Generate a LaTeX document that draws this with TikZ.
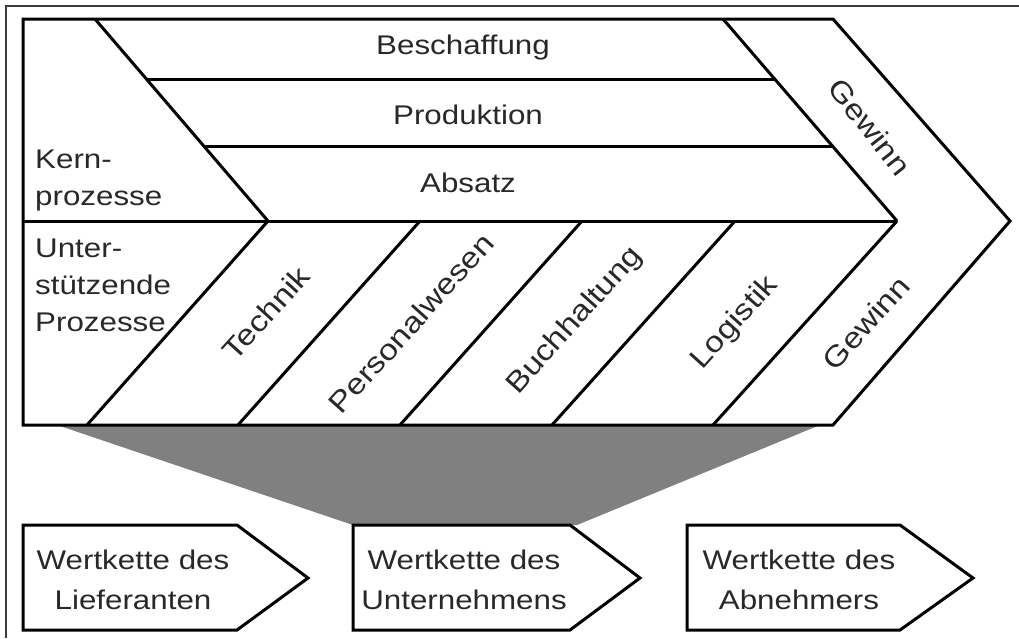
\documentclass[tikz,border=0pt]{standalone}
\usepackage{fontspec}
\setmainfont{Liberation Sans}[FakeStretch=1.16]
\usepackage{tikz}
\usetikzlibrary{positioning}
\definecolor{framegray}{RGB}{60, 60, 60}
\definecolor{funnelgray}{RGB}{128, 128, 128}
\definecolor{textgray}{RGB}{40, 40, 40}

\tikzset{
  chainline/.style={line width=3pt, line join=miter, line cap=butt},
  plainlbl/.style={font=\fontsize{27}{37}\selectfont, text=textgray, inner sep=0pt},
  sidelbl/.style={plainlbl, align=left, anchor=north west},
  slantlbl/.style={plainlbl, font=\fontsize{29}{37}\selectfont, rotate=48},
  boxlbl/.style={font=\fontsize{27}{40}\selectfont, text=textgray, inner sep=0pt, align=center},
}

\begin{document}
\begin{tikzpicture}[x=1pt, y=-1pt]
    \useasboundingbox (0,0) rectangle (1019,638);

    % Outer frame
    \draw[line width=1.5pt, framegray] (6,638) -- (6,6) -- (1019,6);

    % Funnel to the own chain
    \fill[funnelgray] (57,425) -- (820,425) -- (577,525) -- (353,525) -- cycle;

    % Value chain outline
    \draw[chainline] (23,19) -- (833,19) -- (1010,221) -- (833,425) -- (23,425) -- cycle;

    % Core processes
    \draw[chainline] (95,19) -- (268,221);
    \draw[chainline] (723,19) -- (897,221);
    \draw[chainline] (146,79) -- (775,79);
    \draw[chainline] (204,146) -- (832,146);
    \draw[chainline] (23,221) -- (897,221);

    % Support processes
    \draw[chainline] (268,221) -- (87,425);
    \draw[chainline] (420,221) -- (238,425);
    \draw[chainline] (582,221) -- (400,425);
    \draw[chainline] (735,221) -- (552,425);
    \draw[chainline] (897,221) -- (713,425);

    % Labels
    \node[plainlbl] (beschaffung) at (463,48) {Beschaffung};
    \node[plainlbl] (produktion) at (468,115) {Produktion};
    \node[plainlbl] (absatz) at (468,183) {Absatz};
    \node[sidelbl] (kern) at (35,150) {Kern-\\prozesse};
    \node[sidelbl] (unter) at (35,239) {Unter-\\stützende\\Prozesse};
    \node[slantlbl] (technik) at (266,313) {Technik};
    \node[slantlbl] (personal) at (411,323) {Personalwesen};
    \node[slantlbl] (buchhaltung) at (575,321) {Buchhaltung};
    \node[slantlbl] (logistik) at (735,323) {Logistik};
    \node[slantlbl] (gewinnunten) at (866,323) {Gewinn};
    \node[slantlbl, rotate=-100] (gewinnoben) at (870,127) {Gewinn};

    % Chains of supplier, company and customer
    \draw[chainline] (23,525) -- (237,525) -- (308,578) -- (237,630) -- (23,630) -- cycle;
    \draw[chainline] (353,525) -- (570,525) -- (640,578) -- (570,630) -- (353,630) -- cycle;
    \draw[chainline] (687,525) -- (900,525) -- (973,578) -- (900,630) -- (687,630) -- cycle;
    \node[boxlbl] (lieferant) at (133,580) {Wertkette des\\Lieferanten};
    \node[boxlbl] (unternehmen) at (464,580) {Wertkette des\\Unternehmens};
    \node[boxlbl] (abnehmer) at (799,580) {Wertkette des\\Abnehmers};
\end{tikzpicture}
\end{document}
